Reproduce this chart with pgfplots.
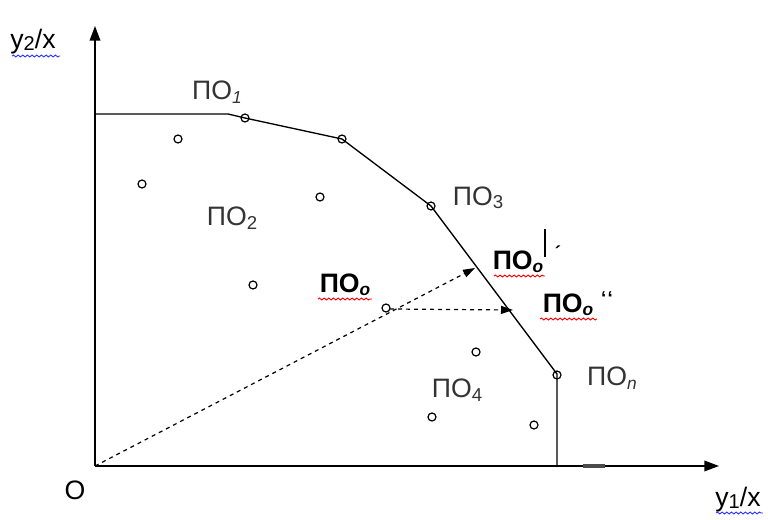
\documentclass[border=0pt]{standalone}
\usepackage{fontspec}
\setmainfont{Liberation Sans}
\usepackage{pgfplots}
\pgfplotsset{compat=1.18}
\usetikzlibrary{arrows.meta,decorations.pathmorphing}
\begin{document}
\begin{tikzpicture}
\newcommand{\lbl}{\fontsize{20}{22}\selectfont}
\newcommand{\sub}[1]{\raisebox{-0.25ex}{\fontsize{13}{13}\selectfont\itshape #1}}
\newcommand{\subu}[1]{\raisebox{-0.25ex}{\fontsize{14}{14}\selectfont #1}}
\tikzset{wavy/.style={decorate,decoration={snake,amplitude=0.7pt,segment length=3.5pt},line width=0.7pt}}
\begin{axis}[width=576pt,height=389.25pt,scale only axis,
  xmin=0,xmax=768,ymin=0,ymax=519,hide axis,clip=false]
% axes
\addplot[black,line width=1pt,-{Triangle[length=11pt,width=8pt]}] coordinates {(95,53) (95,493)};
\addplot[black,line width=1pt,-{Triangle[length=11pt,width=8pt]}] coordinates {(95,53) (719,53)};
\addplot[black!70,line width=2.5pt] coordinates {(583,53) (605,53)};
% frontier
\addplot[black,line width=1pt] coordinates {(95,405) (228,405) (245,401) (342,380) (431,313) (557,145) (557,53)};
\addplot[only marks,mark=o,mark size=3pt,black,line width=0.9pt,mark options={fill=white}] coordinates {
(245,401) (342,380) (431,313) (557,144)};
% interior units
\addplot[only marks,mark=o,mark size=3pt,black,line width=0.9pt,mark options={fill=white}] coordinates {
(178,380) (142,335) (320,322) (253,234) (386,211) (476,167) (432,102) (534,94)};
% projections
\addplot[black,dashed,line width=0.9pt,-{Triangle[length=9pt,width=6pt]}] coordinates {(95,53) (475,251)};
\addplot[black,dashed,line width=0.9pt,-{Triangle[length=9pt,width=6pt]}] coordinates {(390,210) (513,209)};
\addplot[black,line width=0.8pt] coordinates {(545,290) (545,262)};
% labels
\node[font=\lbl] at (axis cs:33,477) {y\raisebox{-0.1ex}{\fontsize{15}{15}\selectfont 2}/x};
\draw[wavy,blue!80] (axis cs:12,463) -- (axis cs:60,463);
\node[font=\lbl] at (axis cs:75,29) {O};
\node[font=\lbl] at (axis cs:738,19) {y\raisebox{-0.1ex}{\fontsize{15}{15}\selectfont 1}/x};
\draw[wavy,blue!80] (axis cs:716,6) -- (axis cs:763,6);
\node[font=\lbl,black!80] at (axis cs:217,427) {ПО\sub{1}};
\node[font=\lbl,black!80] at (axis cs:232,301) {ПО\subu{2}};
\node[font=\lbl,black!80] at (axis cs:478,321) {ПО\subu{3}};
\node[font=\lbl,black!80] at (axis cs:457,129) {ПО\subu{4}};
\node[font=\lbl,black!80] at (axis cs:612,141) {ПО\sub{n}};
\node[font=\lbl\bfseries] at (axis cs:345,234) {ПО\sub{\bfseries o}};
\draw[wavy,red] (axis cs:318,220) -- (axis cs:372,220);
\node[font=\lbl\bfseries] at (axis cs:518,257) {ПО\sub{\bfseries o}};
\node[font=\fontsize{14}{14}\selectfont\bfseries] at (axis cs:558,266) {\symbol{"00B4}};
\draw[wavy,red] (axis cs:494,243) -- (axis cs:545,243);
\node[font=\lbl\bfseries] at (axis cs:568,214) {ПО\sub{\bfseries o}};
\node[font=\fontsize{14}{14}\selectfont\bfseries] at (axis cs:607,221) {\symbol{96}\kern1pt\symbol{96}};
\draw[wavy,red] (axis cs:540,200) -- (axis cs:597,200);
\end{axis}
\pgfresetboundingbox
\path (current axis.south west) rectangle (current axis.north east);
\end{tikzpicture}
\end{document}
